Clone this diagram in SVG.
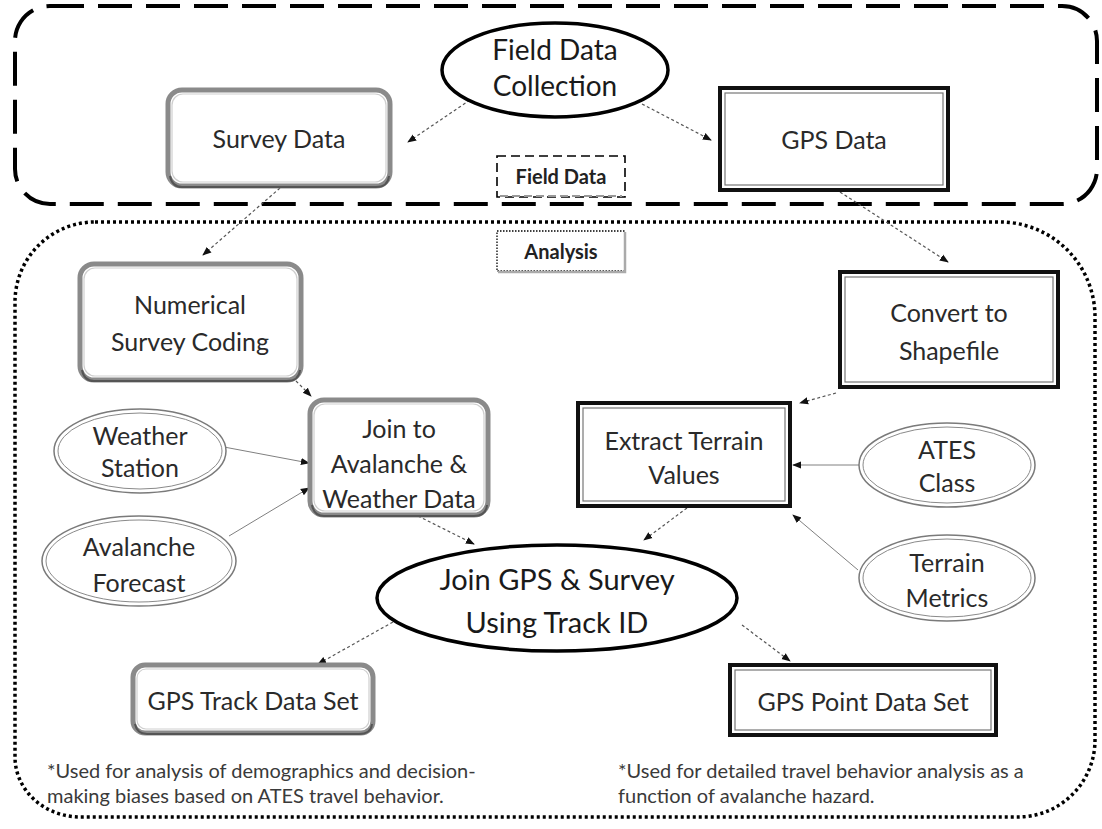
<svg xmlns="http://www.w3.org/2000/svg" width="1102" height="829" viewBox="0 0 1102 829">
<defs>
<style>
text{font-family:Lato,"Open Sans","Liberation Sans",sans-serif;fill:#2a2a2a;text-anchor:middle;dominant-baseline:central}
.t25{font-size:25px}
.lbl{font-size:20px;font-weight:bold;fill:#222}
.note{font-size:20px;text-anchor:start;fill:#3a3a3a}
.gr-o{fill:#fff;stroke:#8a8a8a;stroke-width:5}
.gr-s{fill:none;stroke:#555;stroke-width:2}
.gr-i{fill:none;stroke:#cfcfcf;stroke-width:1.2}
.bk-o{fill:#fff;stroke:#111;stroke-width:4}
.bk-i{fill:none;stroke:#777;stroke-width:1.2}
.src-o{fill:#fff;stroke:#7a7a7a;stroke-width:1.5}
.src-i{fill:none;stroke:#8a8a8a;stroke-width:1}
.dash{fill:none;stroke:#555;stroke-width:1.2;stroke-dasharray:3 2.5;marker-end:url(#ah)}
.sol{fill:none;stroke:#808080;stroke-width:1;marker-end:url(#ah)}
</style>
<marker id="ah" viewBox="0 0 10 10" refX="9" refY="5" markerWidth="9" markerHeight="9" markerUnits="userSpaceOnUse" orient="auto">
<path d="M0,1 L10,5 L0,9 Z" fill="#111"/>
</marker>
</defs>
<rect width="1102" height="829" fill="#fff"/>

<g id="containers">
<rect x="15" y="6" width="1082" height="198" rx="35" fill="none" stroke="#000" stroke-width="4" stroke-dasharray="34 14"/>
<path d="M95,222 H1000 A95,95 0 0 1 1095,317 V740 A77,77 0 0 1 1018,817 H80 A65,60 0 0 1 15,757 V302 A80,80 0 0 1 95,222 Z" fill="none" stroke="#000" stroke-width="3.5" stroke-dasharray="3 3"/>
</g>

<g id="label-field">
<rect x="497" y="156" width="128" height="41" fill="#fff" stroke="#000" stroke-width="1.6" stroke-dasharray="9 5"/>
<line x1="500" y1="196" x2="622" y2="196" stroke="#999" stroke-width="2" stroke-dasharray="8 4"/>
<text class="lbl" x="561" y="176">Field Data</text>
</g>
<g id="label-analysis">
<rect x="497" y="231" width="128" height="40" fill="#fff" stroke="#000" stroke-width="1.3" stroke-dasharray="1.5 1.5"/>
<path d="M625,232 V272 H498" fill="none" stroke="#aaa" stroke-width="2.5"/>
<text class="lbl" x="561" y="251">Analysis</text>
</g>

<g id="connectors">
<path class="dash" d="M470,100 L408,142"/>
<path class="dash" d="M642,104 L711,140"/>
<path class="dash" d="M280,188 L203,255"/>
<path class="dash" d="M840,192 L948,262"/>
<path class="dash" d="M296,381 L311,396"/>
<path class="dash" d="M836,393 L800,403"/>
<path class="sol" d="M224,447 L309,463"/>
<path class="sol" d="M229,536 L309,488"/>
<path class="sol" d="M859,465 L793,465"/>
<path class="sol" d="M858,570 L793,515"/>
<path class="dash" d="M418,516 L474,544"/>
<path class="dash" d="M687,508 L644,540"/>
<path class="dash" d="M393,622 L318,664"/>
<path class="dash" d="M742,625 L790,661"/>
</g>

<g id="field-data-collection">
<ellipse cx="555" cy="70" rx="113" ry="47" fill="#fff" stroke="#000" stroke-width="3.5"/>
<text x="555" y="49" style="font-size:28px;fill:#1a1a1a">Field Data</text>
<text x="555" y="85" style="font-size:28px;fill:#1a1a1a">Collection</text>
</g>

<g id="survey-data">
<rect class="gr-o" x="168" y="90" width="222" height="96" rx="14"/>
<path class="gr-s" d="M170,176 Q172,187 182,187 H376 Q388,187 389,176"/>
<rect class="gr-i" x="172" y="94" width="214" height="88" rx="11"/>
<text class="t25" x="279" y="138">Survey Data</text>
</g>

<g id="gps-data">
<rect class="bk-o" x="720" y="88" width="228" height="102"/>
<rect class="bk-i" x="725" y="93" width="218" height="92"/>
<text class="t25" x="834" y="139">GPS Data</text>
</g>

<g id="numerical-survey-coding">
<rect class="gr-o" x="80" y="264" width="221" height="116" rx="14"/>
<path class="gr-s" d="M82,370 Q84,381 94,381 H287 Q299,381 300,370"/>
<rect class="gr-i" x="84" y="268" width="213" height="108" rx="11"/>
<text class="t25" x="190" y="304">Numerical</text>
<text class="t25" x="190" y="341">Survey Coding</text>
</g>

<g id="convert-to-shapefile">
<rect class="bk-o" x="840" y="272" width="218" height="115"/>
<rect class="bk-i" x="845" y="277" width="208" height="105"/>
<text class="t25" x="949" y="312">Convert to</text>
<text class="t25" x="949" y="350">Shapefile</text>
</g>

<g id="join-avalanche-weather">
<rect class="gr-o" x="310" y="400" width="178" height="115" rx="14"/>
<path class="gr-s" d="M312,505 Q314,516 324,516 H474 Q486,516 487,505"/>
<rect class="gr-i" x="314" y="404" width="170" height="107" rx="11"/>
<text class="t25" x="399" y="428">Join to</text>
<text class="t25" x="399" y="463">Avalanche &amp;</text>
<text class="t25" x="399" y="498">Weather Data</text>
</g>

<g id="extract-terrain-values">
<rect class="bk-o" x="578" y="403" width="212" height="103"/>
<rect class="bk-i" x="583" y="408" width="202" height="93"/>
<text class="t25" x="684" y="440">Extract Terrain</text>
<text class="t25" x="684" y="474">Values</text>
</g>

<g id="weather-station">
<ellipse class="src-o" cx="140" cy="451" rx="86" ry="42"/>
<ellipse class="src-i" cx="140" cy="451" rx="82" ry="38"/>
<text class="t25" x="140" y="435">Weather</text>
<text class="t25" x="140" y="467">Station</text>
</g>

<g id="avalanche-forecast">
<ellipse class="src-o" cx="139" cy="561" rx="97" ry="45"/>
<ellipse class="src-i" cx="139" cy="561" rx="93" ry="41"/>
<text class="t25" x="139" y="546">Avalanche</text>
<text class="t25" x="139" y="582">Forecast</text>
</g>

<g id="ates-class">
<ellipse class="src-o" cx="947" cy="465" rx="88" ry="42"/>
<ellipse class="src-i" cx="947" cy="465" rx="84" ry="38"/>
<text class="t25" x="947" y="449">ATES</text>
<text class="t25" x="947" y="482">Class</text>
</g>

<g id="terrain-metrics">
<ellipse class="src-o" cx="947" cy="578" rx="88" ry="43"/>
<ellipse class="src-i" cx="947" cy="578" rx="84" ry="39"/>
<text class="t25" x="947" y="562">Terrain</text>
<text class="t25" x="947" y="597">Metrics</text>
</g>

<g id="join-gps-survey">
<ellipse cx="557" cy="598" rx="180" ry="53" fill="#fff" stroke="#000" stroke-width="3.5"/>
<text x="557" y="578" style="font-size:29px;fill:#1a1a1a">Join GPS &amp; Survey</text>
<text x="557" y="621" style="font-size:29px;fill:#1a1a1a">Using Track ID</text>
</g>

<g id="gps-track-data-set">
<rect class="gr-o" x="133" y="665" width="240" height="68" rx="12"/>
<path class="gr-s" d="M135,724 Q137,734 147,734 H359 Q371,734 372,724"/>
<rect class="gr-i" x="137" y="669" width="232" height="60" rx="9"/>
<text class="t25" x="253" y="700">GPS Track Data Set</text>
</g>

<g id="gps-point-data-set">
<rect class="bk-o" x="730" y="665" width="266" height="70"/>
<rect class="bk-i" x="735" y="670" width="256" height="60"/>
<text class="t25" x="863" y="701">GPS Point Data Set</text>
</g>

<g id="notes">
<text class="note" x="47" y="770">*Used for analysis of demographics and decision-</text>
<text class="note" x="47" y="795">making biases based on ATES travel behavior.</text>
<text class="note" x="618" y="770">*Used for detailed travel behavior analysis as a</text>
<text class="note" x="618" y="795">function of avalanche hazard.</text>
</g>
</svg>
